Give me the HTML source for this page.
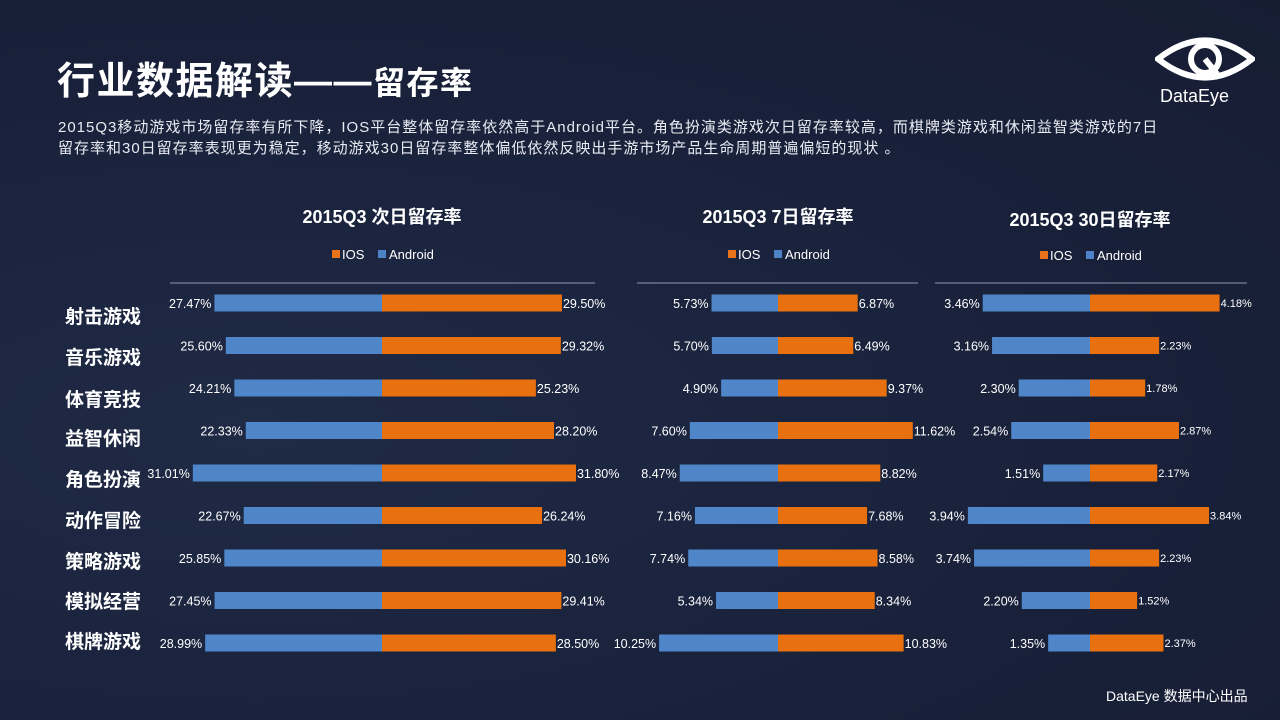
<!DOCTYPE html>
<html><head><meta charset="utf-8">
<style>
body{margin:0;width:1280px;height:720px;overflow:hidden;background:#19213a;font-family:"Liberation Sans","Noto Sans CJK SC",sans-serif;color:#fff;position:relative}
.t{position:absolute;white-space:nowrap}
</style></head>
<body>
<div style="position:absolute;inset:0;background:radial-gradient(ellipse at 20% 60%,#1f2a45 0%,#19213a 60%,#161d33 100%)"></div>
<div class="t" style="left:57px;top:50px;font-size:38px;font-weight:bold;letter-spacing:1.5px">行业数据解读——<span style="font-size:32px">留存率</span></div>
<div class="t" style="left:58px;top:117px;font-size:15px;line-height:21px;letter-spacing:1px;color:#e8ebf2">2015Q3移动游戏市场留存率有所下降，IOS平台整体留存率依然高于Android平台。角色扮演类游戏次日留存率较高，而棋牌类游戏和休闲益智类游戏的7日<br>留存率和30日留存率表现更为稳定，移动游戏30日留存率整体偏低依然反映出手游市场产品生命周期普遍偏短的现状 。</div>
<svg style="position:absolute;left:1155px;top:34px" width="100" height="50" viewBox="0 0 100 50">
<path d="M3 25 Q50 -12 97 25 Q50 62 3 25Z" fill="none" stroke="#fff" stroke-width="6"/>
<circle cx="50" cy="25" r="14" fill="none" stroke="#fff" stroke-width="6"/>
<path d="M50 25 L62 40" stroke="#fff" stroke-width="6"/>
</svg>
<div class="t" style="left:1160px;top:86px;font-size:18px">DataEye</div>
<div class="t" style="left:1106px;top:686px;font-size:14px">DataEye 数据中心出品</div>
<svg id="c" style="position:absolute;left:0;top:0" width="1280" height="720"></svg>
<script>
const categories=["射击游戏","音乐游戏","体育竞技","益智休闲","角色扮演","动作冒险","策略游戏","模拟经营","棋牌游戏"];
const d1Android=[27.47,25.60,24.21,22.33,31.01,22.67,25.85,27.45,28.99];
const d1IOS=[29.50,29.32,25.23,28.20,31.80,26.24,30.16,29.41,28.50];
const d7Android=[5.73,5.70,4.90,7.60,8.47,7.16,7.74,5.34,10.25];
const d7IOS=[6.87,6.49,9.37,11.62,8.82,7.68,8.58,8.34,10.83];
const d30Android=[3.46,3.16,2.30,2.54,1.51,3.94,3.74,2.20,1.35];
const d30IOS=[4.18,2.23,1.78,2.87,2.17,3.84,2.23,1.52,2.37];
const titles=["2015Q3  次日留存率","2015Q3  7日留存率","2015Q3 30日留存率"];
const NS="http://www.w3.org/2000/svg",svg=document.getElementById('c');
function el(tag,attrs,txt){const e=document.createElementNS(NS,tag);for(const k in attrs)e.setAttribute(k,attrs[k]);if(txt!==undefined)e.textContent=txt;svg.appendChild(e);return e;}
const rowY=i=>303+i*42.5;
const catY=[317,358,400,439,480,521,562,602,642];
categories.forEach((c,i)=>{const t=el('text',{x:65,y:catY[i]+6,fill:'#fff','font-size':19,'font-weight':'bold'},c);

});
const charts=[
{a:d1Android,o:d1IOS,cx:382,s:6.1,l1:170,l2:595,ty:216,ly:254,fs:12.5,fs2:12.5},
{a:d7Android,o:d7IOS,cx:778,s:11.6,l1:637,l2:918,ty:216,ly:254,fs:12.5,fs2:12.5},
{a:d30Android,o:d30IOS,cx:1090,s:31,l1:935,l2:1247,ty:219,ly:255,fs:12.5,fs2:11}];
charts.forEach((ch,k)=>{
const tt=el('text',{x:ch.cx,y:ch.ty+7,fill:'#fff','font-size':18,'font-weight':'bold','text-anchor':'middle'},titles[k]);


const lx=ch.cx-50;
const r1=el('rect',{x:lx,y:ch.ly-4,width:8,height:8,fill:'#e8731a'});


const t1=el('text',{x:lx+10,y:ch.ly+5,fill:'#fff','font-size':13},'IOS');


const r2=el('rect',{x:lx+46,y:ch.ly-4,width:8,height:8,fill:'#4f81c7'});


const t2=el('text',{x:lx+57,y:ch.ly+5,fill:'#fff','font-size':13},'Android');


const ln=el('line',{x1:ch.l1,x2:ch.l2,y1:283,y2:283,stroke:'#8f98b0','stroke-width':1});


ch.a.forEach((v,i)=>{
const y=rowY(i),w=v*ch.s,w2=ch.o[i]*ch.s;
const b1=el('rect',{x:ch.cx-w,y:y-8.5,width:w,height:17,fill:'#4f86c9'});


const b2=el('rect',{x:ch.cx,y:y-8.5,width:w2,height:17,fill:'#e8700f'});


const v1=el('text',{x:ch.cx-w-3,y:y+5,fill:'#fff','font-size':ch.fs,'text-anchor':'end'},v.toFixed(2)+'%');


const v2=el('text',{x:ch.cx+w2+1,y:y+(ch.fs2<12?4:5),fill:'#fff','font-size':ch.fs2},ch.o[i].toFixed(2)+'%');


});
});
</script>
</body></html>
